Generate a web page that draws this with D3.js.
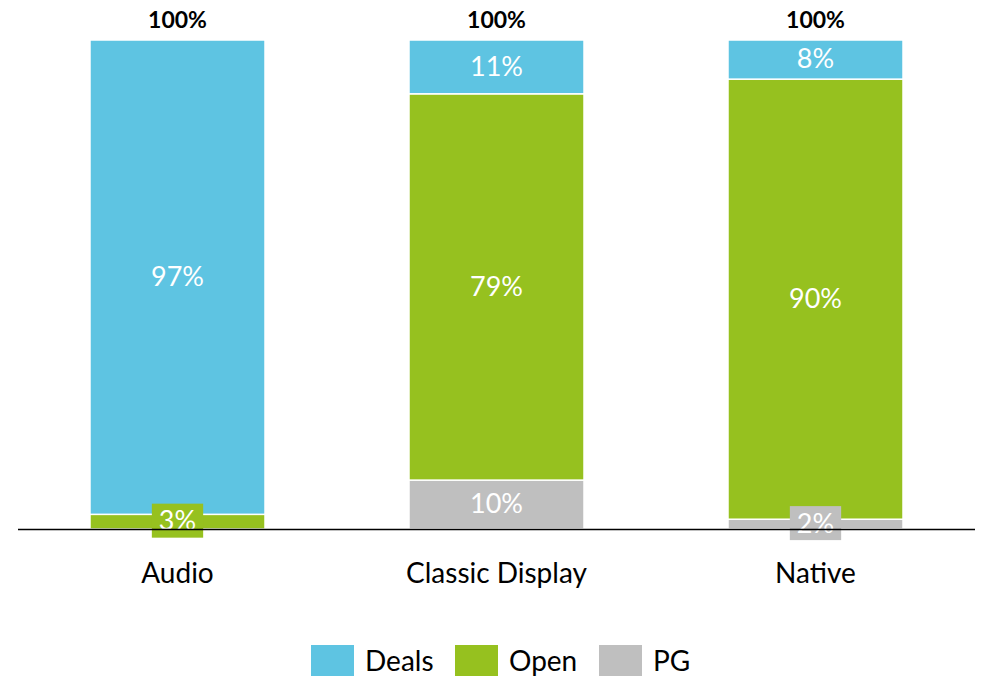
<!DOCTYPE html>
<html><head><meta charset="utf-8">
<script src="https://cdn.jsdelivr.net/npm/d3@7"></script>
<style>body{margin:0;background:#fff}svg{display:block;font-family:Lato,"Open Sans",sans-serif}</style>
</head><body>
<svg id="c" width="984" height="677"></svg>
<script>
const categories = ["Audio", "Classic Display", "Native"];
const seriesNames = ["PG", "Open", "Deals"];
const pgValues = [0, 10, 2];
const openValues = [3, 79, 90];
const dealsValues = [97, 11, 8];
const totalLabels = ["100%", "100%", "100%"];
const colors = {Deals: "#5EC4E2", Open: "#96C11F", PG: "#BFBFBF"};
const legendOrder = ["Deals", "Open", "PG"];

const data = categories.map((c, i) => ({cat: c, PG: pgValues[i], Open: openValues[i], Deals: dealsValues[i], total: totalLabels[i]}));
const svg = d3.select("#c");
const x = d3.scaleBand().domain(categories).range([18, 975]).paddingInner(0.4514).paddingOuter(0.2257);
const y = d3.scaleLinear().domain([0, 100]).range([529, 40]);
const stack = d3.stack().keys(seriesNames)(data);

const g = svg.append("g");
stack.forEach(layer => {
  const key = layer.key;
  layer.forEach(d => {
    const v = d[1] - d[0];
    if (v <= 0) return;
    g.append("rect")
      .attr("x", x(d.data.cat)).attr("width", x.bandwidth())
      .attr("y", y(d[1])).attr("height", y(d[0]) - y(d[1]))
      .attr("fill", colors[key]).attr("stroke", "#fff").attr("stroke-width", 1.5);
  });
});
// labels
stack.forEach(layer => {
  const key = layer.key;
  layer.forEach(d => {
    const v = d[1] - d[0];
    if (v <= 0) return;
    const cx = x(d.data.cat) + x.bandwidth() / 2;
    const cy = (y(d[0]) + y(d[1])) / 2 - 1;
    const h = y(d[0]) - y(d[1]);
    const bg = g.append("rect").attr("fill", colors[key]);
    const t = g.append("text").attr("x", cx).attr("y", cy).attr("dy", "0.36em")
      .attr("text-anchor", "middle").attr("fill", "#fff").attr("font-size", 27)
      .text(v + "%");
    if (h < 30) {
      const w = t.node().getComputedTextLength() + 14;
      bg.attr("x", cx - w / 2).attr("y", cy - 17).attr("width", w).attr("height", 34);
    } else bg.remove();
  });
});
// baseline
svg.append("line").attr("x1", 18).attr("x2", 975).attr("y1", y(0) + 0.5).attr("y2", y(0) + 0.5)
  .attr("stroke", "#000").attr("stroke-width", 1.5);
// totals
svg.selectAll(".tot").data(data).join("text")
  .attr("x", d => x(d.cat) + x.bandwidth() / 2).attr("y", 20).attr("dy", "0.36em")
  .attr("text-anchor", "middle").attr("font-weight", "bold").attr("font-size", 23).attr("fill", "#000")
  .text(d => d.total);
// category labels
svg.selectAll(".cat").data(categories).join("text")
  .attr("x", d => x(d) + x.bandwidth() / 2).attr("y", 573).attr("dy", "0.36em")
  .attr("text-anchor", "middle").attr("font-size", 28).attr("fill", "#000")
  .text(d => d);
// legend
const legX = [311, 455, 599];
legendOrder.forEach((k, i) => {
  svg.append("rect").attr("x", legX[i]).attr("y", 645).attr("width", 43).attr("height", 31).attr("fill", colors[k]);
  svg.append("text").attr("x", legX[i] + 54).attr("y", 661).attr("dy", "0.36em")
    .attr("font-size", 28).attr("fill", "#000").text(k);
});
</script>
</body></html>
